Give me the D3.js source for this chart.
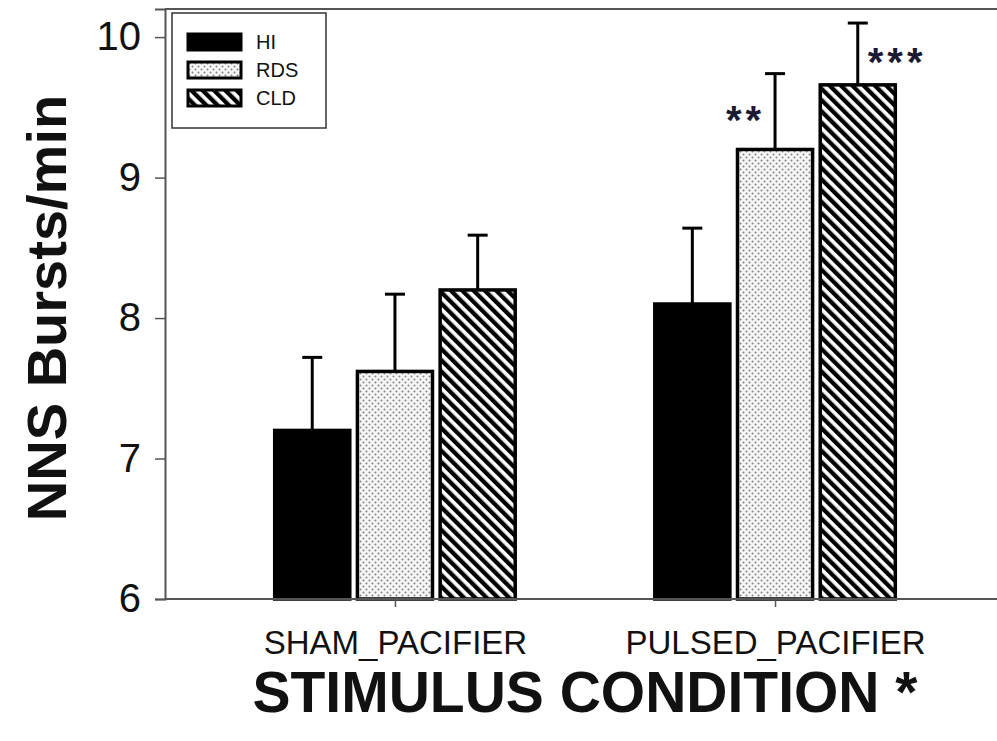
<!DOCTYPE html>
<html>
<head>
<meta charset="utf-8">
<script src="https://cdn.jsdelivr.net/npm/d3@7"></script>
<style>
  body { margin: 0; background: #fff; }
  text { font-family: "Liberation Sans", Arial, sans-serif; }
</style>
</head>
<body>
<div id="chart"></div>
<script>
// data
const categories = ["SHAM_PACIFIER", "PULSED_PACIFIER"];
const groups = ["HI", "RDS", "CLD"];
const hiMeans = [7.20, 8.10];
const rdsMeans = [7.62, 9.20];
const cldMeans = [8.20, 9.66];
const hiErr = [0.52, 0.54];
const rdsErr = [0.55, 0.54];
const cldErr = [0.39, 0.44];
const hiSig = ["", ""];
const rdsSig = ["", "**"];
const cldSig = ["", "***"];
const yTicks = [6, 7, 8, 9, 10];

const W = 997, H = 741;
const plotLeft = 165, plotRight = 1005, plotTop = 9, plotBottom = 599;

const svg = d3.select("#chart")
    .append("svg")
    .attr("width", W)
    .attr("height", H);

// patterns
const defs = svg.append("defs");
const dots = defs.append("pattern")
    .attr("id", "dots")
    .attr("patternUnits", "userSpaceOnUse")
    .attr("width", 6).attr("height", 6);
dots.append("rect").attr("width", 6).attr("height", 6).attr("fill", "#f6f6f6");
dots.append("circle").attr("cx", 1.5).attr("cy", 1.5).attr("r", 1).attr("fill", "#808080");
dots.append("circle").attr("cx", 4.5).attr("cy", 4.5).attr("r", 1).attr("fill", "#808080");

const stripes = defs.append("pattern")
    .attr("id", "stripes")
    .attr("patternUnits", "userSpaceOnUse")
    .attr("width", 8).attr("height", 8)
    .attr("patternTransform", "rotate(-45)");
stripes.append("rect").attr("width", 8).attr("height", 8).attr("fill", "#fff");
stripes.append("rect").attr("width", 4.3).attr("height", 8).attr("fill", "#000");

const fills = { HI: "#000", RDS: "url(#dots)", CLD: "url(#stripes)" };

// build rows
const series = { HI: [hiMeans, hiErr, hiSig], RDS: [rdsMeans, rdsErr, rdsSig], CLD: [cldMeans, cldErr, cldSig] };
const data = categories.map((c, i) => ({
    cat: c,
    bars: groups.map(g => ({ key: g, cat: c, value: series[g][0][i], err: series[g][1][i], sig: series[g][2][i] }))
}));

// scales
const x = d3.scalePoint()
    .domain(categories)
    .range([plotLeft, plotRight])
    .padding(0.605);

const xSub = d3.scaleBand()
    .domain(groups)
    .range([-122, 122])
    .paddingInner(0.05);

const y = d3.scaleLinear()
    .domain([6, 10.2])
    .range([plotBottom, plotTop]);

// frame top line
svg.append("line")
    .attr("x1", plotLeft).attr("x2", W).attr("y1", plotTop).attr("y2", plotTop)
    .attr("stroke", "#555").attr("stroke-width", 2);

// bars
const g = svg.append("g")
    .selectAll("g")
    .data(data)
    .join("g")
    .attr("transform", d => `translate(${x(d.cat)},0)`);

g.selectAll("line.err")
    .data(d => d.bars)
    .join("line")
    .attr("class", "err")
    .attr("x1", d => xSub(d.key) + xSub.bandwidth() / 2)
    .attr("x2", d => xSub(d.key) + xSub.bandwidth() / 2)
    .attr("y1", d => y(d.value))
    .attr("y2", d => y(d.value + d.err))
    .attr("stroke", "#000").attr("stroke-width", 3);

g.selectAll("line.cap")
    .data(d => d.bars)
    .join("line")
    .attr("class", "cap")
    .attr("x1", d => xSub(d.key) + xSub.bandwidth() / 2 - 10)
    .attr("x2", d => xSub(d.key) + xSub.bandwidth() / 2 + 10)
    .attr("y1", d => y(d.value + d.err))
    .attr("y2", d => y(d.value + d.err))
    .attr("stroke", "#000").attr("stroke-width", 3);

g.selectAll("rect")
    .data(d => d.bars)
    .join("rect")
    .attr("x", d => xSub(d.key) + 1.75)
    .attr("y", d => y(d.value))
    .attr("width", xSub.bandwidth() - 3.5)
    .attr("height", d => y(6) - y(d.value))
    .attr("fill", d => fills[d.key])
    .attr("stroke", "#000")
    .attr("stroke-width", 3.5);

// significance stars
g.selectAll("text.sig")
    .data(d => d.bars.filter(b => b.sig))
    .join("text")
    .attr("class", "sig")
    .attr("x", d => xSub(d.key) + xSub.bandwidth() / 2 + (d.key === "RDS" ? -10 : 10))
    .attr("y", d => (y(d.value) + y(d.value + d.err)) / 2 + 22)
    .attr("text-anchor", d => d.key === "RDS" ? "end" : "start")
    .attr("font-size", 40)
    .attr("font-weight", "bold")
    .attr("letter-spacing", 4)
    .attr("fill", "#1a1a33")
    .text(d => d.sig);

// y axis
const yAxis = svg.append("g")
    .attr("transform", `translate(${plotLeft},0)`)
    .call(d3.axisLeft(y).tickValues(yTicks).tickSize(10).tickPadding(14).tickFormat(d3.format("d")));
yAxis.select(".domain").attr("stroke", "#555").attr("stroke-width", 2);
yAxis.selectAll(".tick line").attr("stroke", "#555").attr("stroke-width", 1.5);
yAxis.selectAll(".tick text").attr("font-size", 40).attr("fill", "#111")
    .style("font-family", "'Liberation Sans', Arial, sans-serif");

// x axis
const xAxis = svg.append("g")
    .attr("transform", `translate(0,${plotBottom})`)
    .call(d3.axisBottom(x).tickSize(8).tickSizeOuter(0).tickPadding(24));
xAxis.select(".domain").attr("stroke", "#555").attr("stroke-width", 2)
    .attr("d", `M${plotLeft},0H${W}`);
xAxis.selectAll(".tick line").attr("stroke", "#555").attr("stroke-width", 1.5);
xAxis.selectAll(".tick text").attr("font-size", 33).attr("fill", "#111")
    .style("font-family", "'Liberation Sans', Arial, sans-serif");

// axis titles
svg.append("text")
    .attr("transform", `translate(66,308) rotate(-90)`)
    .attr("text-anchor", "middle")
    .attr("font-size", 56)
    .attr("font-weight", "bold")
    .attr("fill", "#111")
    .text("NNS Bursts/min");

svg.append("text")
    .attr("x", 585)
    .attr("y", 712)
    .attr("text-anchor", "middle")
    .attr("font-size", 57)
    .attr("font-weight", "bold")
    .attr("fill", "#111")
    .text("STIMULUS CONDITION *");

// legend
const legend = svg.append("g").attr("transform", "translate(172,13)");
legend.append("rect")
    .attr("width", 154).attr("height", 115)
    .attr("fill", "#fff").attr("stroke", "#333").attr("stroke-width", 1.5);
const item = legend.selectAll("g")
    .data(groups)
    .join("g")
    .attr("transform", (d, i) => `translate(16,${21 + i * 28})`);
item.append("rect")
    .attr("width", 53).attr("height", 16)
    .attr("fill", d => fills[d])
    .attr("stroke", "#000").attr("stroke-width", 3);
item.append("text")
    .attr("x", 68).attr("y", 15)
    .attr("font-size", 20)
    .attr("fill", "#111")
    .text(d => d);
</script>
</body>
</html>
